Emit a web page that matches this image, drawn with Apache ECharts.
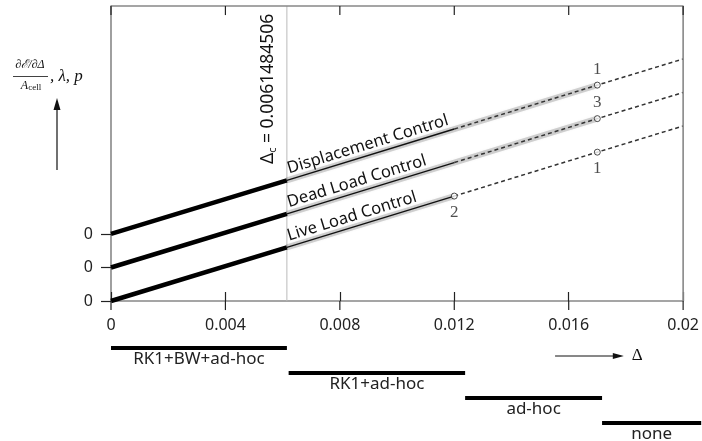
<!DOCTYPE html>
<html><head><meta charset="utf-8">
<script src="https://cdn.jsdelivr.net/npm/echarts@6/dist/echarts.min.js"></script>
<style>html,body{margin:0;padding:0;background:#fff}#c{width:702px;height:441px}</style>
</head><body><div id="c"></div>
<script>
// ---- data ----
const deltaC = 0.0061484506;
const deltaPts = [0, deltaC, 0.012, 0.017, 0.02];
const displacement = [2.0, 3.6, 5.13, 6.44, 7.22];
const deadLoad = [1.0, 2.6, 4.13, 5.44, 6.22];
const liveLoad = [0.0, 1.6, 3.13, 4.44, 5.22];
const xTicks = [0, 0.004, 0.008, 0.012, 0.016, 0.02];
const xTickLabels = ['0', '0.004', '0.008', '0.012', '0.016', '0.02'];
const yRange = [0, 8.8];
const yZeroTicks = [0, 1, 2];
const curveNames = ['Displacement Control', 'Dead Load Control', 'Live Load Control'];
const haloEnd = [3, 3, 2];
const markIdx = [[3], [3], [2, 3]];
const markText = [['1'], ['3'], ['2', '1']];
const markBelow = [[false], [false], [true, true]];
const solverNames = ['RK1+BW+ad-hoc', 'RK1+ad-hoc', 'ad-hoc', 'none'];
const solverStart = [0, 0.0062, 0.01236, 0.01714];
const solverEnd = [0.00614, 0.01236, 0.01714, 0.0206];
const arrowRange = [0.0155, 0.0179];

const curves = [displacement, deadLoad, liveLoad];
const sans = 'Noto Sans';
const serif = 'Liberation Serif';
const tickLen = 0.27; // about 9 px in y-axis units

function seg(ys, i0, i1) {
  const out = [];
  for (let i = i0; i <= i1; i++) out.push([deltaPts[i], ys[i]]);
  return out;
}

const xMax = xTicks[xTicks.length - 1];
const series = [];
// top + right frame
series.push({ type: 'line', clip: false, silent: true, symbol: 'none', z: 5,
  data: [[xTicks[0], yRange[1]], [xMax, yRange[1]], [xMax, yRange[0]]],
  lineStyle: { color: '#888', width: 1.6 } });
// top inside ticks and bottom outward ticks, one short series each
xTicks.forEach(t => {
  series.push({ type: 'line', clip: false, silent: true, symbol: 'none', z: 6,
    data: [[t, yRange[1]], [t, yRange[1] - tickLen]], lineStyle: { color: '#222', width: 1.2 } });
  series.push({ type: 'line', clip: false, silent: true, symbol: 'none', z: 6,
    data: [[t, yRange[0]], [t, yRange[0] - tickLen]], lineStyle: { color: '#222', width: 1.2 } });
});
// vertical line at delta_c
series.push({ type: 'line', data: [[deltaC, yRange[0]], [deltaC, yRange[1]]], symbol: 'none', silent: true, z: 0,
  lineStyle: { color: '#bbb', width: 1 } });
curves.forEach((ys, c) => {
  series.push({ type: 'line', data: seg(ys, 1, haloEnd[c]), symbol: 'none', silent: true, z: 1,
    lineStyle: { color: 'rgba(0,0,0,0.17)', width: 6, shadowBlur: 3, shadowColor: 'rgba(0,0,0,0.25)' } });
});
curves.forEach((ys, c) => {
  series.push({ type: 'line', data: seg(ys, 0, 1), symbol: 'none', z: 3,
    lineStyle: { color: '#000', width: 4.5, cap: 'butt' } });
  series.push({ type: 'line', data: seg(ys, 1, 2), symbol: 'none', z: 3,
    lineStyle: { color: '#111', width: 1.4 } });
  series.push({ type: 'line', data: seg(ys, 2, 4), symbol: 'none', z: 3,
    lineStyle: { color: '#333', width: 1.5, type: [4, 3] } });
  series.push({ type: 'scatter', z: 4, symbol: 'circle', symbolSize: 6,
    itemStyle: { color: '#fff', borderColor: '#222', borderWidth: 1 },
    data: markIdx[c].map((i, k) => ({ value: [deltaPts[i], ys[i]],
      label: { show: true, formatter: markText[c][k], position: markBelow[c][k] ? 'bottom' : 'top',
        distance: 4, fontFamily: serif, fontSize: 17, color: '#222' } })) });
});
// solver bars (second grid)
series.push({ type: 'custom', xAxisIndex: 1, yAxisIndex: 1, clip: false,
  data: solverNames.map((n, i) => [solverStart[i], solverEnd[i], i]),
  encode: { x: [0, 1], y: 2 },
  renderItem: function (params, api) {
    const p0 = api.coord([api.value(0), api.value(2)]);
    const p1 = api.coord([api.value(1), api.value(2)]);
    return { type: 'group', children: [
      { type: 'line', shape: { x1: p0[0], y1: p0[1], x2: p1[0], y2: p1[1] }, style: { stroke: '#000', lineWidth: 4 } },
      { type: 'text', x: (p0[0] + p1[0]) / 2, y: p0[1] + 3, style: { text: solverNames[params.dataIndex],
        fontFamily: sans, fontSize: 17, fill: '#222', textAlign: 'center', textVerticalAlign: 'top' } }
    ] };
  } });

const gray = () => ({ show: true, onZero: false, lineStyle: { color: '#888', width: 1.6 } });
const tick = (inside, len) => ({ show: true, inside: inside, length: len, lineStyle: { color: '#222', width: 1.2 } });
const fmtX = v => { const k = xTicks.findIndex(t => Math.abs(t - v) < 1e-9); return k >= 0 ? xTickLabels[k] : ''; };

const chart = echarts.init(document.getElementById('c'), null, { renderer: 'canvas' });
chart.setOption({
  animation: false,
  grid: [{ left: 111, right: 18, top: 6, bottom: 140 }, { left: 111, right: 18, top: 340, bottom: 1 }],
  xAxis: [
    { type: 'value', gridIndex: 0, position: 'bottom', min: 0, max: 0.02, interval: 0.004, axisLine: gray(),
      axisTick: tick(true, 9),
      axisLabel: { formatter: fmtX, margin: 16, fontFamily: sans, fontSize: 16, color: '#222' }, splitLine: { show: false } },
    { type: 'value', gridIndex: 1, min: 0, max: 0.02, show: false }
  ],
  yAxis: [
    { type: 'value', gridIndex: 0, position: 'left', min: yRange[0], max: yRange[1], axisLine: gray(),
      axisTick: Object.assign(tick(false, 10), { customValues: yZeroTicks }),
      axisLabel: { customValues: yZeroTicks, formatter: () => '0', margin: 18, fontFamily: sans, fontSize: 16, color: '#222' },
      splitLine: { show: false } },
    { type: 'value', gridIndex: 1, min: -0.32, max: 3.68, inverse: true, show: false }
  ],
  series: series
});

// annotations positioned through the axes
const toPx = (x, y) => chart.convertToPixel({ xAxisIndex: 0, yAxisIndex: 0 }, [x, y]);
const graphics = [];
curves.forEach((ys, c) => {
  const a = toPx(deltaPts[1], ys[1]);
  const b = toPx(deltaPts[3], ys[3]);
  const ang = Math.atan2(a[1] - b[1], b[0] - a[0]);
  const off = 4;
  graphics.push({ type: 'text', x: a[0] + off * Math.cos(ang) - 2 * Math.sin(ang), y: a[1] - off * Math.sin(ang) - 2 * Math.cos(ang),
    rotation: ang, z: 10,
    style: { text: curveNames[c], fontFamily: sans, fontSize: 16.5, fill: '#111', textAlign: 'left', textVerticalAlign: 'bottom' } });
});
const vc = toPx(deltaC, 0);
graphics.push({ type: 'text', x: vc[0] - 9, y: 164, rotation: Math.PI / 2, z: 10,
  style: { rich: { m: { fontFamily: sans, fontSize: 17.5, fill: '#111' }, s: { fontFamily: sans, fontSize: 11, fill: '#111', padding: [8, 0, 0, 0] } },
    text: '{m|Δ}{s|c}{m| = 0.0061484506}', textAlign: 'left', textVerticalAlign: 'bottom' } });
// y-axis quantity label
graphics.push({ type: 'text', x: 30, y: 71, style: { text: '∂ℰ/∂Δ', fontFamily: serif, fontStyle: 'italic', fontSize: 12, fill: '#111', textAlign: 'center', textVerticalAlign: 'bottom' } });
graphics.push({ type: 'line', shape: { x1: 13, y1: 76.5, x2: 48, y2: 76.5 }, style: { stroke: '#111', lineWidth: 0.8 } });
graphics.push({ type: 'text', x: 31, y: 79, style: { rich: { a: { fontFamily: serif, fontStyle: 'italic', fontSize: 12, fill: '#111' }, b: { fontFamily: serif, fontSize: 9, fill: '#111', padding: [4, 0, 0, 0] } },
  text: '{a|A}{b|cell}', textAlign: 'center', textVerticalAlign: 'top' } });
graphics.push({ type: 'text', x: 50, y: 77, style: { text: ', λ, p', fontFamily: serif, fontStyle: 'italic', fontSize: 17, fill: '#111', textAlign: 'left', textVerticalAlign: 'middle' } });
graphics.push({ type: 'line', shape: { x1: 57, y1: 170, x2: 57, y2: 106 }, style: { stroke: '#111', lineWidth: 1.2 } });
graphics.push({ type: 'polygon', shape: { points: [[57, 98], [53.5, 110], [60.5, 110]] }, style: { fill: '#111' } });
// delta arrow
const ar0 = chart.convertToPixel({ gridIndex: 1 }, [arrowRange[0], 0.32]);
const ar1 = chart.convertToPixel({ gridIndex: 1 }, [arrowRange[1], 0.32]);
graphics.push({ type: 'line', shape: { x1: ar0[0], y1: ar0[1], x2: ar1[0] - 8, y2: ar1[1] }, style: { stroke: '#111', lineWidth: 1 } });
graphics.push({ type: 'polygon', shape: { points: [[ar1[0], ar1[1]], [ar1[0] - 11, ar1[1] - 3], [ar1[0] - 11, ar1[1] + 3]] }, style: { fill: '#111' } });
graphics.push({ type: 'text', x: ar1[0] + 8, y: ar1[1], style: { text: 'Δ', fontFamily: serif, fontSize: 17, fill: '#111', textAlign: 'left', textVerticalAlign: 'middle' } });
chart.setOption({ graphic: graphics });
</script></body></html>
